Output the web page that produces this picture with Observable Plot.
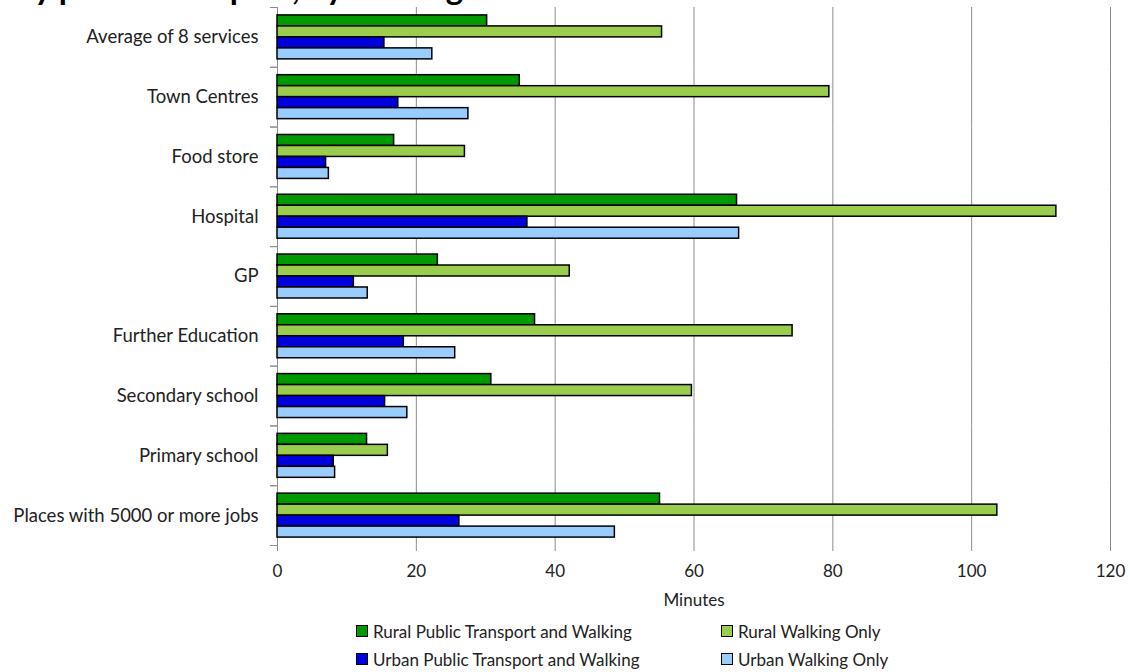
<!DOCTYPE html>
<html>
<head>
<meta charset="utf-8">
<script src="https://cdn.jsdelivr.net/npm/d3@7"></script>
<script src="https://cdn.jsdelivr.net/npm/@observablehq/plot@0.6"></script>
<style>
  html, body { margin: 0; padding: 0; background: #fff; overflow: hidden; }
  #wrap { position: relative; width: 1130px; height: 672px; font-family: Lato, "Open Sans", sans-serif; color: #222; }
  #title { position: absolute; z-index: 2; top: 0; left: 16px; white-space: nowrap; font-weight: 700; font-size: 33px; line-height: 1; transform: translateY(calc(-100% + 4px)); color: #000; }
  #title .pre { position: absolute; right: 100%; top: 0; white-space: pre; }
  #chart { position: absolute; z-index: 1; left: 0; top: 0; }
  #legend { position: absolute; left: 356px; top: 621px; display: grid; grid-template-columns: 365px 300px; row-gap: 8px; font-size: 17px; }
  #legend .item { display: flex; align-items: center; height: 20px; }
  #legend .sw { width: 10px; height: 10px; border: 1px solid #000; margin-right: 5px; box-sizing: content-box; }
</style>
</head>
<body>
<div id="wrap">
  <div id="chart"></div>
  <div id="title"><span class="pre">Average travel time to key services </span>by public transport, by walking</div>
  <div id="legend"></div>
</div>
<script>
const categories = [
  "Average of 8 services",
  "Town Centres",
  "Food store",
  "Hospital",
  "GP",
  "Further Education",
  "Secondary school",
  "Primary school",
  "Places with 5000 or more jobs"
];
const series = [
  "Rural Public Transport and Walking",
  "Rural Walking Only",
  "Urban Public Transport and Walking",
  "Urban Walking Only"
];
const colors = ["#009900", "#9acd4e", "#0000dd", "#99ccff"];
const ruralPT   = [30.2, 34.9, 16.8, 66.2, 23.1, 37.1, 30.8, 12.9, 55.1];
const ruralWalk = [55.4, 79.5, 27.0, 112.2, 42.1, 74.2, 59.7, 15.9, 103.7];
const urbanPT   = [15.4, 17.4, 7.0, 36.0, 11.0, 18.2, 15.5, 8.1, 26.2];
const urbanWalk = [22.3, 27.5, 7.4, 66.5, 13.0, 25.6, 18.7, 8.3, 48.6];
const xTicks = [0, 20, 40, 60, 80, 100, 120];
const xLabel = "Minutes";

const seriesValues = [ruralPT, ruralWalk, urbanPT, urbanWalk];
const data = categories.flatMap((c, i) =>
  series.map((s, j) => ({category: c, series: s, value: seriesValues[j][i]}))
);

const H = 615, MT = 7, MB = 70;
const halfBand = (H - MT - MB) / categories.length / 2;
const gray = "#8c8c8c";

const chart = Plot.plot({
  width: 1130,
  height: H,
  marginLeft: 277,
  marginRight: 20,
  marginTop: MT,
  marginBottom: MB,
  style: {fontFamily: "Lato, 'Open Sans', sans-serif", fontSize: "17px", color: "#222", background: "white", overflow: "visible"},
  x: {domain: [0, 120]},
  y: {domain: series, paddingInner: 0, paddingOuter: 0.72, round: false, axis: null},
  fy: {domain: categories, padding: 0, round: false},
  color: {domain: series, range: colors},
  marks: [
    Plot.gridX(xTicks, {stroke: gray, strokeOpacity: 1, strokeWidth: 1}),
    Plot.ruleX([0], {stroke: gray, strokeWidth: 1}),
    Plot.barX(data, {x: "value", y: "series", fy: "category", fill: "series", stroke: "black", strokeWidth: 1.5}),
    Plot.axisX(xTicks, {tickSize: 6, tickPadding: 13, stroke: gray, fill: "#222", line: true, label: xLabel, labelAnchor: "center", labelArrow: "none", labelOffset: 60}),
    Plot.axisFy({anchor: "left", tickSize: 0, tickPadding: 19, fill: "#222", label: null, fontSize: 18.5}),
    Plot.axisFy({anchor: "left", tickSize: 7, text: null, stroke: gray, dy: -halfBand, label: null}),
    Plot.axisFy({anchor: "left", tickSize: 7, text: null, stroke: gray, dy: halfBand, label: null})
  ]
});
document.getElementById("chart").appendChild(chart);

const legend = d3.select("#legend");
[0, 1, 2, 3].forEach(j => {
  const item = legend.append("div").attr("class", "item");
  item.append("div").attr("class", "sw").style("background", colors[j]);
  item.append("span").text(series[j]);
});
</script>
</body>
</html>
